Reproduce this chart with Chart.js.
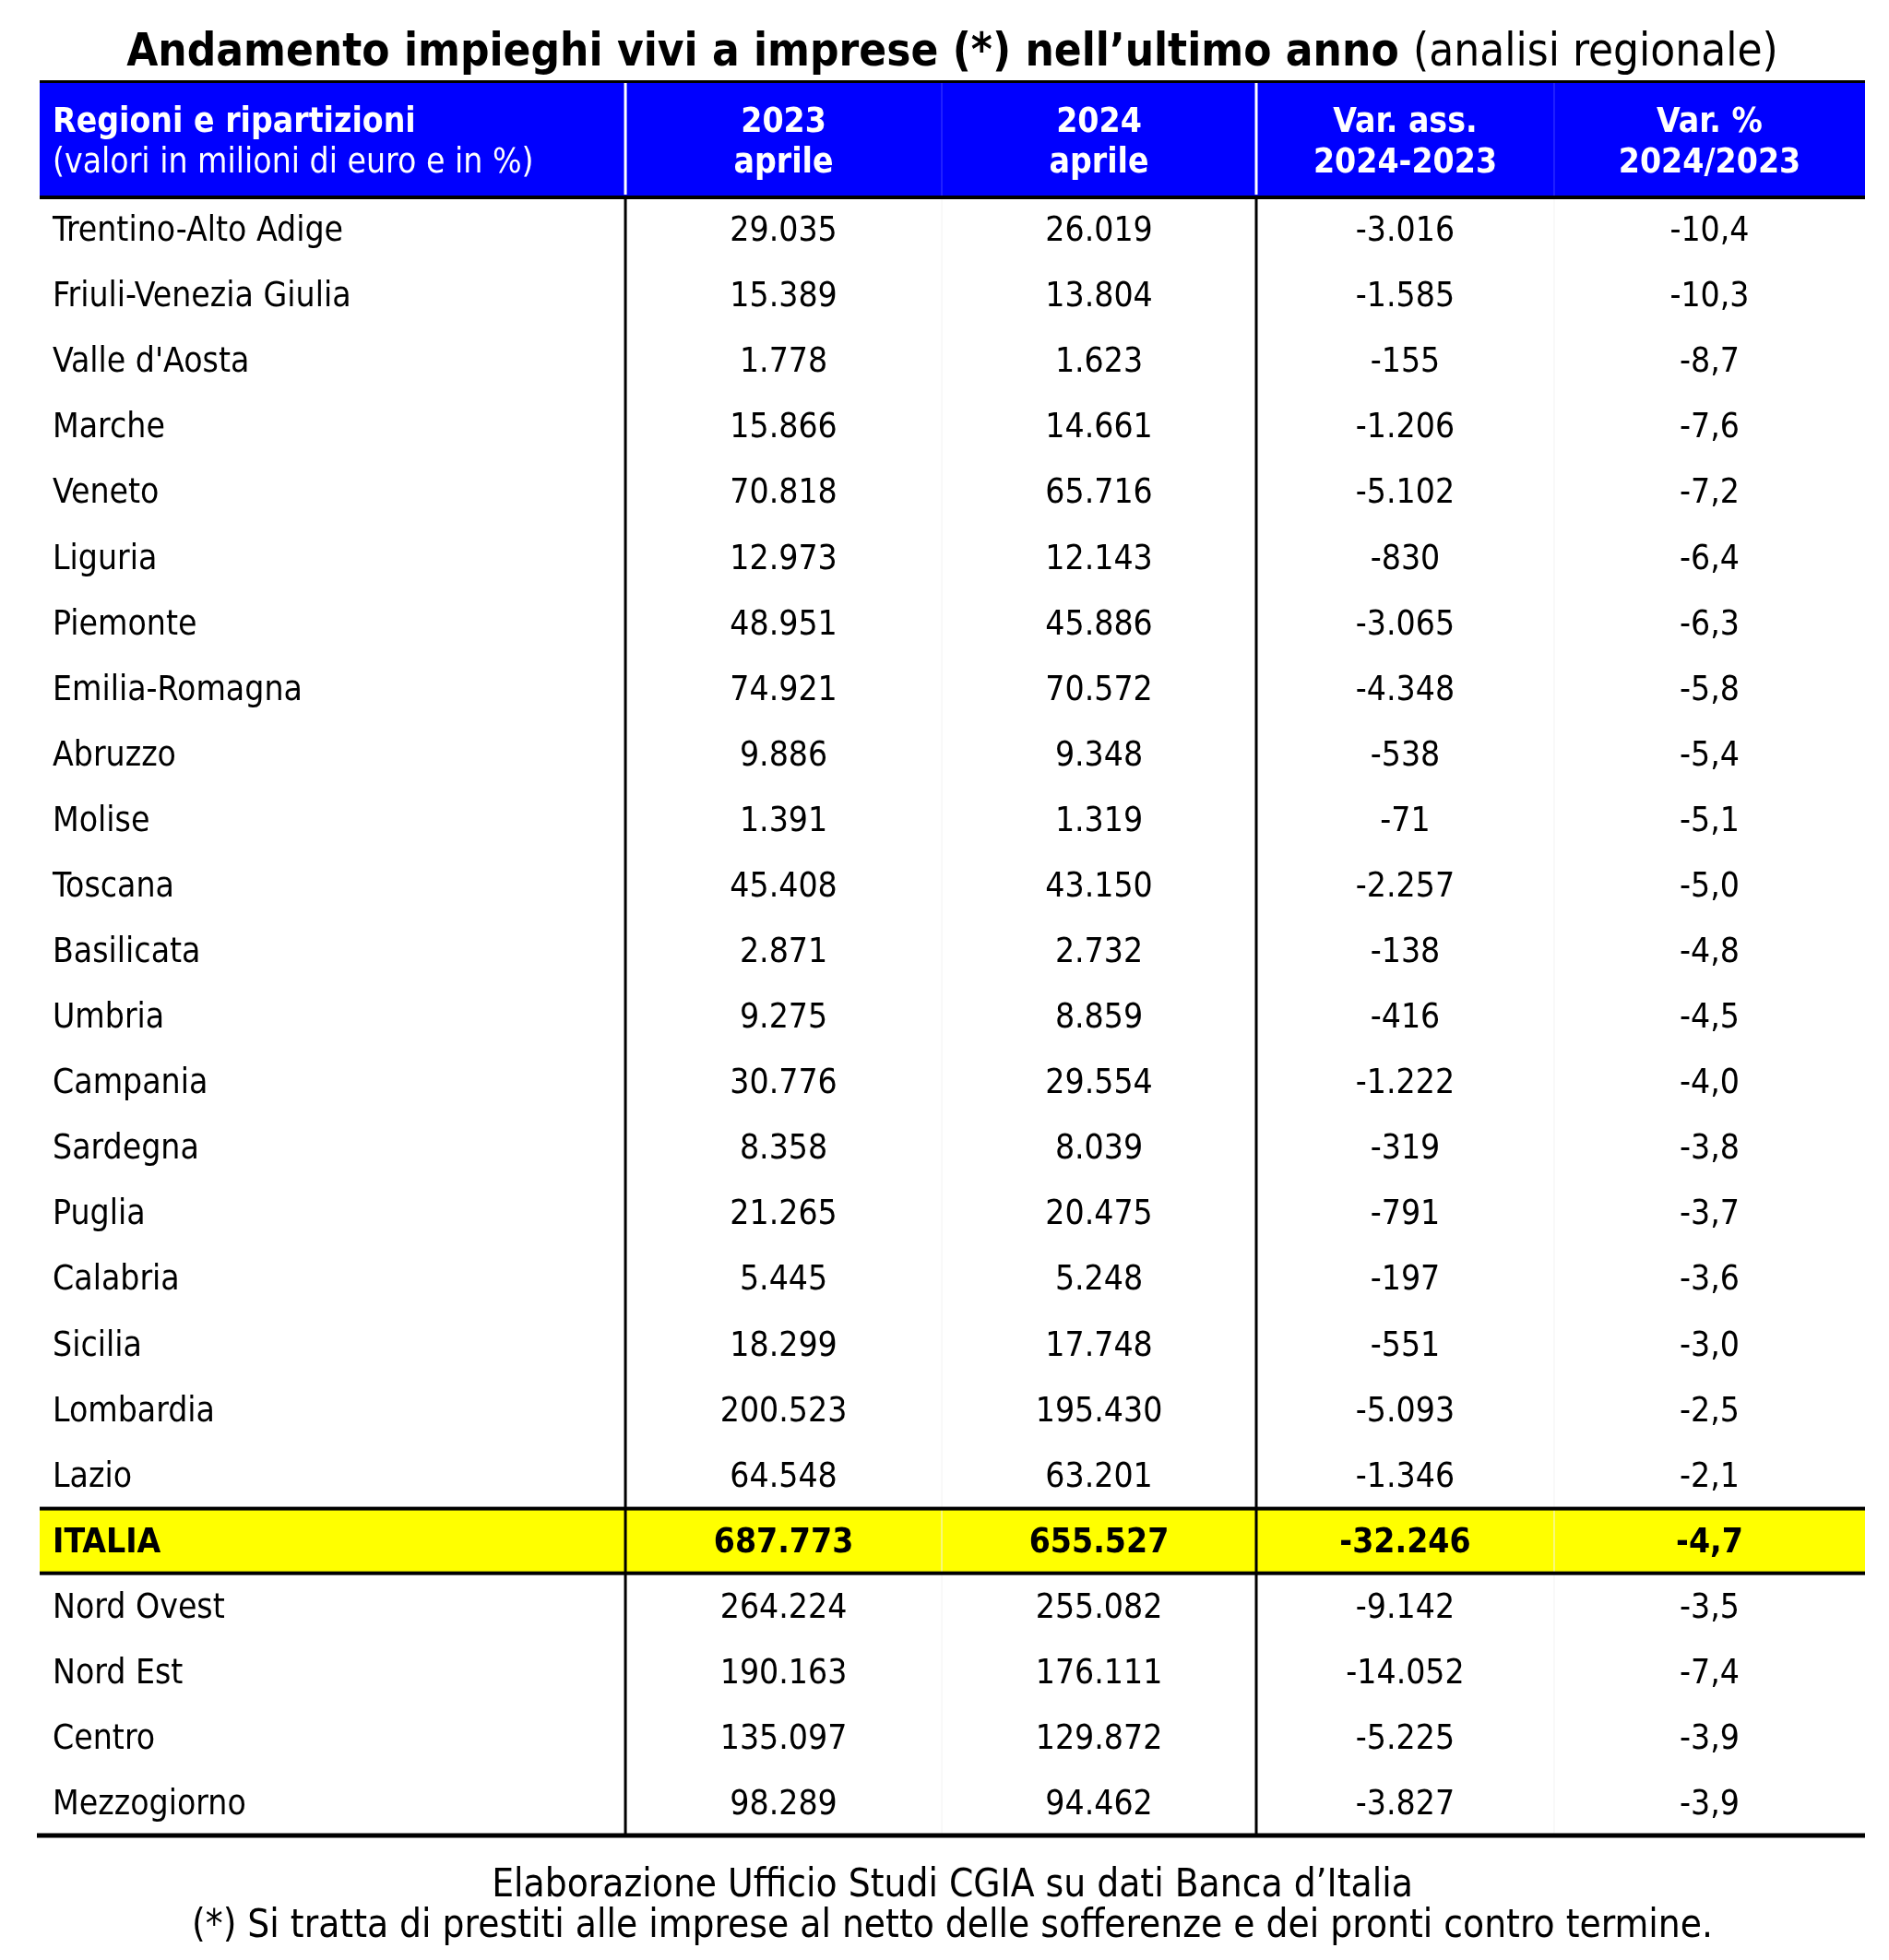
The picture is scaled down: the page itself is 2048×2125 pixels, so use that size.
<!DOCTYPE html>
<html>
<head>
<meta charset="utf-8">
<script src="https://cdn.jsdelivr.net/npm/chart.js@4.4.1/dist/chart.umd.min.js"></script>
<style>
  body { margin: 0; background: #fff; }
  #wrap { width: 2048px; height: 2125px; }
</style>
</head>
<body>
<div id="wrap"><canvas id="tableChart"></canvas></div>
<script>
// table rows, top to bottom
const regions = ['Trentino-Alto Adige', 'Friuli-Venezia Giulia', "Valle d'Aosta", 'Marche', 'Veneto',
  'Liguria', 'Piemonte', 'Emilia-Romagna', 'Abruzzo', 'Molise', 'Toscana', 'Basilicata', 'Umbria',
  'Campania', 'Sardegna', 'Puglia', 'Calabria', 'Sicilia', 'Lombardia', 'Lazio', 'ITALIA',
  'Nord Ovest', 'Nord Est', 'Centro', 'Mezzogiorno'];
const apr2023 = [29035, 15389, 1778, 15866, 70818, 12973, 48951, 74921, 9886, 1391, 45408, 2871, 9275,
  30776, 8358, 21265, 5445, 18299, 200523, 64548, 687773, 264224, 190163, 135097, 98289];
const apr2024 = [26019, 13804, 1623, 14661, 65716, 12143, 45886, 70572, 9348, 1319, 43150, 2732, 8859,
  29554, 8039, 20475, 5248, 17748, 195430, 63201, 655527, 255082, 176111, 129872, 94462];
const varAss = [-3016, -1585, -155, -1206, -5102, -830, -3065, -4348, -538, -71, -2257, -138, -416,
  -1222, -319, -791, -197, -551, -5093, -1346, -32246, -9142, -14052, -5225, -3827];
const varPct = [-10.4, -10.3, -8.7, -7.6, -7.2, -6.4, -6.3, -5.8, -5.4, -5.1, -5.0, -4.8, -4.5,
  -4.0, -3.8, -3.7, -3.6, -3.0, -2.5, -2.1, -4.7, -3.5, -7.4, -3.9, -3.9];
const headers = [
  ['Regioni e ripartizioni', '(valori in milioni di euro e in %)'],
  ['2023', 'aprile'], ['2024', 'aprile'],
  ['Var. ass.', '2024-2023'], ['Var. %', '2024/2023']
];
const totalRow = 'ITALIA';

// layout
const colEdges = [0, 32.09, 49.42, 66.65, 82.97, 100];   // % of table width
const FONT = "'DejaVu Sans Condensed', 'DejaVu Sans', sans-serif";

const fmtInt = n => (n < 0 ? '-' : '') + String(Math.abs(n)).replace(/\B(?=(\d{3})+(?!\d))/g, '.');
const fmtPct = n => n.toFixed(1).replace('.', ',');

const tablePlugin = {
  id: 'tablePlugin',
  beforeDatasetsDraw(chart) {
    const { ctx, chartArea: a } = chart;
    // header band
    ctx.save();
    ctx.fillStyle = '#0000ff';
    ctx.fillRect(a.left, 89, a.right - a.left, a.top - 89);
    ctx.restore();
  },
  afterDatasetsDraw(chart) {
    const { ctx, chartArea: a, scales: { x, y } } = chart;
    const half = (a.bottom - a.top) / regions.length / 2;
    const colX = c => x.getPixelForValue(colEdges[c]);
    const colMid = c => x.getPixelForValue((colEdges[c] + colEdges[c + 1]) / 2);
    const hline = (yy, w, x0 = a.left, x1 = a.right) => {
      ctx.fillStyle = '#000';
      ctx.fillRect(x0, yy - w / 2, x1 - x0, w);
    };
    ctx.save();

    // faint separators
    ctx.fillStyle = '#4040ff';
    [2, 4].forEach(c => ctx.fillRect(colX(c) - 0.5, 90, 1, a.top - 90));
    ctx.fillStyle = '#f2f2f2';
    [2, 4].forEach(c => ctx.fillRect(colX(c) - 0.5, a.top, 1, a.bottom - a.top));
    // header white separators
    ctx.fillStyle = '#fff';
    [1, 3].forEach(c => ctx.fillRect(colX(c) - 1.5, 90, 3, a.top - 92));
    // body black separators
    ctx.fillStyle = '#000';
    [1, 3].forEach(c => ctx.fillRect(colX(c) - 1.5, a.top, 3, a.bottom - a.top));

    // horizontal rules
    hline(88.5, 3);
    hline(a.top + 1, 4);
    const ti = regions.indexOf(totalRow);
    const ty = y.getPixelForValue(ti);
    hline(ty - half + 1, 4);
    hline(ty + half, 4);
    hline(a.bottom, 5, a.left - 3, a.right);

    // header text
    ctx.textBaseline = 'middle';
    ctx.fillStyle = '#fff';
    headers.forEach((h, c) => {
      ctx.textAlign = c === 0 ? 'left' : 'center';
      const tx = c === 0 ? colX(0) + 14 : colMid(c);
      ctx.font = 'bold 37px ' + FONT;
      ctx.fillText(h[0], tx, 133);
      ctx.font = (c === 0 ? '' : 'bold ') + '37px ' + FONT;
      ctx.fillText(h[1], tx, 177);
    });

    // body text
    ctx.fillStyle = '#000';
    regions.forEach((r, i) => {
      const yy = y.getPixelForValue(i) + 3;
      ctx.font = (r === totalRow ? 'bold ' : '') + '37px ' + FONT;
      ctx.textAlign = 'left';
      ctx.fillText(r, colX(0) + 14, yy);
      ctx.textAlign = 'center';
      ctx.fillText(fmtInt(apr2023[i]), colMid(1), yy);
      ctx.fillText(fmtInt(apr2024[i]), colMid(2), yy);
      ctx.fillText(fmtInt(varAss[i]), colMid(3), yy);
      ctx.fillText(fmtPct(varPct[i]), colMid(4), yy);
    });

    // title: bold part + regular part, centred on the table
    const t1 = 'Andamento impieghi vivi a imprese (*) nell\u2019ultimo anno ';
    const t2 = '(analisi regionale)';
    ctx.font = 'bold 49px ' + FONT;
    const w1 = ctx.measureText(t1).width;
    ctx.font = '49px ' + FONT;
    const w2 = ctx.measureText(t2).width;
    const cx = (a.left + a.right) / 2;
    ctx.textAlign = 'left';
    ctx.font = 'bold 49px ' + FONT;
    ctx.fillText(t1, cx - (w1 + w2) / 2, 58);
    ctx.font = '49px ' + FONT;
    ctx.fillText(t2, cx - (w1 + w2) / 2 + w1, 58);

    // footer
    ctx.textAlign = 'center';
    ctx.font = '42px ' + FONT;
    ctx.fillText('Elaborazione Ufficio Studi CGIA su dati Banca d\u2019Italia', cx, 2045);
    ctx.fillText('(*) Si tratta di prestiti alle imprese al netto delle sofferenze e dei pronti contro termine.', cx, 2089);
    ctx.restore();
  }
};

new Chart(document.getElementById('tableChart'), {
  type: 'bar',
  data: {
    labels: regions,
    datasets: [{
      data: regions.map(r => r === totalRow ? [0, 100] : null),
      backgroundColor: '#ffff00',
      borderWidth: 0,
      barPercentage: 1,
      categoryPercentage: 1
    }]
  },
  options: {
    indexAxis: 'y',
    responsive: true,
    maintainAspectRatio: false,
    animation: false,
    devicePixelRatio: 1,
    layout: { padding: { left: 43, right: 26, top: 213, bottom: 135 } },
    scales: {
      x: { type: 'linear', min: 0, max: 100, display: false },
      y: { display: false }
    },
    plugins: { legend: { display: false }, tooltip: { enabled: false } }
  },
  plugins: [tablePlugin]
});
</script>
</body>
</html>
